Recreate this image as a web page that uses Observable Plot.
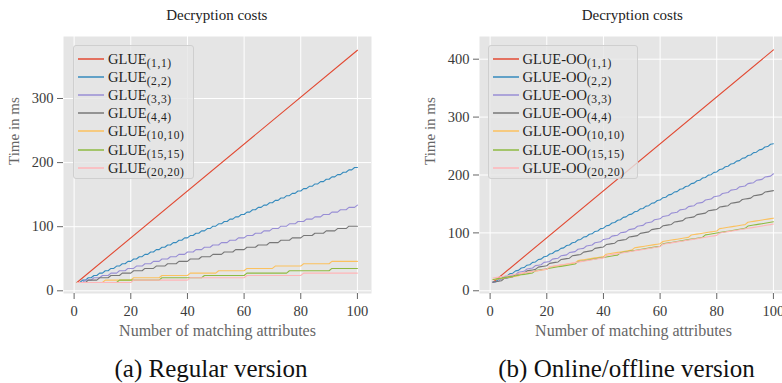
<!DOCTYPE html>
<html>
<head>
<meta charset="utf-8">
<script src="https://cdn.jsdelivr.net/npm/d3@7"></script>
<script src="https://cdn.jsdelivr.net/npm/@observablehq/plot@0.6"></script>
<style>
html, body { margin: 0; padding: 0; background: #fff; width: 782px; height: 383px; overflow: hidden; }
body { position: relative; font-family: "Liberation Serif", "DejaVu Serif", serif; }
.panel { position: absolute; top: 0; width: 391px; height: 345px; }
.title { position: absolute; top: 7px; transform: translateX(-50%); font-size: 15px; line-height: 16px; color: #222; white-space: nowrap; }
.caption { position: absolute; top: 357px; transform: translateX(-50%); font-size: 25px; line-height: 24px; color: #111; white-space: nowrap; }
.legend { position: absolute; box-sizing: border-box; border: 1px solid #cfcfcf; border-radius: 3px; background: rgba(229,229,229,0.8); padding-top: 4px; }
.legend .row { display: flex; align-items: center; height: 18.1px; padding-left: 4px; }
.legend svg { display: block; margin-right: 4px; }
.legend span { font-size: 14.5px; line-height: 14px; color: #222; white-space: nowrap; }
.legend sub { font-size: 11.5px; letter-spacing: 0.6px; vertical-align: -3px; line-height: 0; }
</style>
</head>
<body>
<script>
// ---------- data ----------
const colors = ["#E24A33", "#348ABD", "#988ED5", "#777777", "#FBC15E", "#8EBA42", "#FFB5B8"];
const params = ["(1,1)", "(2,2)", "(3,3)", "(4,4)", "(10,10)", "(15,15)", "(20,20)"];
const regLabel = "GLUE";
const ooLabel = "GLUE-OO";
const xTicks = [0, 20, 40, 60, 80, 100];
const regYTicks = [0, 100, 200, 300];
const ooYTicks = [0, 100, 200, 300, 400];
const attributes = d3.range(1, 101);   // number of matching attributes 1..100
const endpoints = [1, 100];

// Regular version (time in ms)
const reg_1_1 = [13.0, 375.3];
const reg_2_2 = [13.0,13.0,16.6,16.6,20.3,20.3,23.9,23.9,27.6,27.6,31.3,31.3,34.9,34.9,38.6,38.6,42.2,42.2,45.9,45.9,
49.6,49.6,53.2,53.2,56.9,56.9,60.5,60.5,64.2,64.2,67.9,67.9,71.5,71.5,75.2,75.2,78.8,78.8,82.5,82.5,
86.2,86.2,89.8,89.8,93.5,93.5,97.1,97.1,100.8,100.8,104.5,104.5,108.1,108.1,111.8,111.8,115.4,115.4,119.1,119.1,
122.8,122.8,126.4,126.4,130.1,130.1,133.7,133.7,137.4,137.4,141.1,141.1,144.7,144.7,148.4,148.4,152.0,152.0,155.7,155.7,
159.4,159.4,163.0,163.0,166.7,166.7,170.3,170.3,174.0,174.0,177.7,177.7,181.3,181.3,185.0,185.0,188.6,188.6,192.3,192.3];
const reg_3_3 = [13.0,13.0,13.0,16.6,16.6,16.6,20.3,20.3,20.3,23.9,23.9,23.9,27.6,27.6,27.6,
31.3,31.3,31.3,34.9,34.9,34.9,38.6,38.6,38.6,42.2,42.2,42.2,45.9,45.9,45.9,
49.6,49.6,49.6,53.2,53.2,53.2,56.9,56.9,56.9,60.5,60.5,60.5,64.2,64.2,64.2,
67.9,67.9,67.9,71.5,71.5,71.5,75.2,75.2,75.2,78.8,78.8,78.8,82.5,82.5,82.5,
86.2,86.2,86.2,89.8,89.8,89.8,93.5,93.5,93.5,97.1,97.1,97.1,100.8,100.8,100.8,
104.5,104.5,104.5,108.1,108.1,108.1,111.8,111.8,111.8,115.4,115.4,115.4,119.1,119.1,119.1,
122.8,122.8,122.8,126.4,126.4,126.4,130.1,130.1,130.1,133.7];
const reg_4_4 = [13.0,13.0,13.0,13.0,16.6,16.6,16.6,16.6,20.3,20.3,20.3,20.3,23.9,23.9,23.9,23.9,27.6,27.6,27.6,27.6,
31.3,31.3,31.3,31.3,34.9,34.9,34.9,34.9,38.6,38.6,38.6,38.6,42.2,42.2,42.2,42.2,45.9,45.9,45.9,45.9,
49.6,49.6,49.6,49.6,53.2,53.2,53.2,53.2,56.9,56.9,56.9,56.9,60.5,60.5,60.5,60.5,64.2,64.2,64.2,64.2,
67.9,67.9,67.9,67.9,71.5,71.5,71.5,71.5,75.2,75.2,75.2,75.2,78.8,78.8,78.8,78.8,82.5,82.5,82.5,82.5,
86.2,86.2,86.2,86.2,89.8,89.8,89.8,89.8,93.5,93.5,93.5,93.5,97.1,97.1,97.1,97.1,100.8,100.8,100.8,100.8];
const reg_10_10 = [13.0,13.0,13.0,13.0,13.0,13.0,13.0,13.0,13.0,13.0,
16.6,16.6,16.6,16.6,16.6,16.6,16.6,16.6,16.6,16.6,
20.3,20.3,20.3,20.3,20.3,20.3,20.3,20.3,20.3,20.3,
23.9,23.9,23.9,23.9,23.9,23.9,23.9,23.9,23.9,23.9,
27.6,27.6,27.6,27.6,27.6,27.6,27.6,27.6,27.6,27.6,
31.3,31.3,31.3,31.3,31.3,31.3,31.3,31.3,31.3,31.3,
34.9,34.9,34.9,34.9,34.9,34.9,34.9,34.9,34.9,34.9,
38.6,38.6,38.6,38.6,38.6,38.6,38.6,38.6,38.6,38.6,
42.2,42.2,42.2,42.2,42.2,42.2,42.2,42.2,42.2,42.2,
45.9,45.9,45.9,45.9,45.9,45.9,45.9,45.9,45.9,45.9];
const reg_15_15 = [13.0,13.0,13.0,13.0,13.0,13.0,13.0,13.0,13.0,13.0,13.0,13.0,13.0,13.0,13.0,
16.6,16.6,16.6,16.6,16.6,16.6,16.6,16.6,16.6,16.6,16.6,16.6,16.6,16.6,16.6,
20.3,20.3,20.3,20.3,20.3,20.3,20.3,20.3,20.3,20.3,20.3,20.3,20.3,20.3,20.3,
23.9,23.9,23.9,23.9,23.9,23.9,23.9,23.9,23.9,23.9,23.9,23.9,23.9,23.9,23.9,
27.6,27.6,27.6,27.6,27.6,27.6,27.6,27.6,27.6,27.6,27.6,27.6,27.6,27.6,27.6,
31.3,31.3,31.3,31.3,31.3,31.3,31.3,31.3,31.3,31.3,31.3,31.3,31.3,31.3,31.3,
34.9,34.9,34.9,34.9,34.9,34.9,34.9,34.9,34.9,34.9];
const reg_20_20 = [13.0,13.0,13.0,13.0,13.0,13.0,13.0,13.0,13.0,13.0,13.0,13.0,13.0,13.0,13.0,13.0,13.0,13.0,13.0,13.0,
16.6,16.6,16.6,16.6,16.6,16.6,16.6,16.6,16.6,16.6,16.6,16.6,16.6,16.6,16.6,16.6,16.6,16.6,16.6,16.6,
20.3,20.3,20.3,20.3,20.3,20.3,20.3,20.3,20.3,20.3,20.3,20.3,20.3,20.3,20.3,20.3,20.3,20.3,20.3,20.3,
23.9,23.9,23.9,23.9,23.9,23.9,23.9,23.9,23.9,23.9,23.9,23.9,23.9,23.9,23.9,23.9,23.9,23.9,23.9,23.9,
27.6,27.6,27.6,27.6,27.6,27.6,27.6,27.6,27.6,27.6,27.6,27.6,27.6,27.6,27.6,27.6,27.6,27.6,27.6,27.6];

// Online/offline version (time in ms)
const oo_1_1 = [14.5, 416.0];
const oo_2_2 = [15.0,15.8,19.9,20.7,24.7,25.5,29.6,30.4,34.4,35.2,39.3,40.1,44.2,45.0,49.0,49.8,53.9,54.7,58.7,59.5,
63.6,64.4,68.5,69.3,73.3,74.1,78.2,79.0,83.0,83.8,87.9,88.7,92.8,93.6,97.6,98.4,102.5,103.3,107.3,108.1,
112.2,113.0,117.1,117.9,121.9,122.7,126.8,127.6,131.6,132.4,136.5,137.3,141.4,142.2,146.2,147.0,151.1,151.9,155.9,156.7,
160.8,161.6,165.7,166.5,170.5,171.3,175.4,176.2,180.2,181.0,185.1,185.9,190.0,190.8,194.8,195.6,199.7,200.5,204.5,205.3,
209.4,210.2,214.3,215.1,219.1,219.9,224.0,224.8,228.8,229.6,233.7,234.5,238.6,239.4,243.4,244.2,248.3,249.1,253.1,253.9];
const oo_3_3 = [15.0,15.8,16.6,20.7,21.5,22.3,26.3,27.1,27.9,32.0,32.8,33.6,37.7,38.5,39.3,
43.4,44.2,45.0,49.0,49.8,50.6,54.7,55.5,56.3,60.4,61.2,62.0,66.0,66.8,67.6,
71.7,72.5,73.3,77.4,78.2,79.0,83.0,83.8,84.6,88.7,89.5,90.3,94.4,95.2,96.0,
100.1,100.9,101.7,105.7,106.5,107.3,111.4,112.2,113.0,117.1,117.9,118.7,122.7,123.5,124.3,
128.4,129.2,130.0,134.1,134.9,135.7,139.7,140.5,141.3,145.4,146.2,147.0,151.1,151.9,152.7,
156.8,157.6,158.4,162.4,163.2,164.0,168.1,168.9,169.7,173.8,174.6,175.4,179.4,180.2,181.0,
185.1,185.9,186.7,190.8,191.6,192.4,196.4,197.2,198.0,202.1];
const oo_4_4 = [15.0,15.8,16.6,17.4,21.5,22.3,23.1,23.9,28.0,28.8,29.6,30.4,34.4,35.2,36.0,36.9,40.9,41.7,42.5,43.3,
47.4,48.2,49.0,49.8,53.9,54.7,55.5,56.3,60.4,61.2,62.0,62.8,66.8,67.6,68.5,69.3,73.3,74.1,74.9,75.7,
79.8,80.6,81.4,82.2,86.3,87.1,87.9,88.7,92.8,93.6,94.4,95.2,99.2,100.0,100.9,101.7,105.7,106.5,107.3,108.1,
112.2,113.0,113.8,114.6,118.7,119.5,120.3,121.1,125.2,126.0,126.8,127.6,131.6,132.4,133.3,134.1,138.1,138.9,139.7,140.5,
144.6,145.4,146.2,147.0,151.1,151.9,152.7,153.5,157.6,158.4,159.2,160.0,164.0,164.8,165.7,166.5,170.5,171.3,172.1,173.0];
const oo_10_10 = [19.0,19.8,20.6,21.3,22.1,22.9,23.7,24.5,25.2,26.0,
30.0,30.8,31.6,32.4,33.2,33.9,34.7,35.5,36.3,37.1,
41.1,41.9,42.6,43.4,44.2,45.0,45.8,46.5,47.3,48.1,
52.1,52.9,53.7,54.5,55.2,56.0,56.8,57.6,58.4,59.1,
63.2,63.9,64.7,65.5,66.3,67.1,67.8,68.6,69.4,70.2,
74.2,75.0,75.8,76.5,77.3,78.1,78.9,79.7,80.4,81.2,
85.2,86.0,86.8,87.6,88.4,89.1,89.9,90.7,91.5,92.3,
96.3,97.1,97.8,98.6,99.4,100.2,101.0,101.7,102.5,103.3,
107.3,108.1,108.9,109.7,110.4,111.2,112.0,112.8,113.6,114.3,
118.4,119.1,119.9,120.7,121.5,122.3,123.0,123.8,124.6,125.4];
const oo_15_15 = [19.5,20.3,21.1,21.9,22.7,23.6,24.4,25.2,26.0,26.8,27.6,28.4,29.2,30.0,30.8,
34.9,35.7,36.5,37.3,38.1,38.9,39.8,40.6,41.4,42.2,43.0,43.8,44.6,45.4,46.2,
50.3,51.1,51.9,52.7,53.5,54.3,55.1,56.0,56.8,57.6,58.4,59.2,60.0,60.8,61.6,
65.7,66.5,67.3,68.1,68.9,69.7,70.5,71.3,72.2,73.0,73.8,74.6,75.4,76.2,77.0,
81.1,81.9,82.7,83.5,84.3,85.1,85.9,86.7,87.5,88.4,89.2,90.0,90.8,91.6,92.4,
96.5,97.3,98.1,98.9,99.7,100.5,101.3,102.1,102.9,103.7,104.6,105.4,106.2,107.0,107.8,
111.8,112.7,113.5,114.3,115.1,115.9,116.7,117.5,118.3,119.1];
const oo_20_20 = [22.0,22.8,23.6,24.4,25.2,26.1,26.9,27.7,28.5,29.3,30.1,30.9,31.7,32.5,33.3,34.2,35.0,35.8,36.6,37.4,
41.4,42.3,43.1,43.9,44.7,45.5,46.3,47.1,47.9,48.7,49.5,50.4,51.2,52.0,52.8,53.6,54.4,55.2,56.0,56.8,
60.9,61.7,62.5,63.3,64.1,64.9,65.7,66.6,67.4,68.2,69.0,69.8,70.6,71.4,72.2,73.0,73.8,74.7,75.5,76.3,
80.3,81.1,81.9,82.8,83.6,84.4,85.2,86.0,86.8,87.6,88.4,89.2,90.0,90.9,91.7,92.5,93.3,94.1,94.9,95.7,
99.8,100.6,101.4,102.2,103.0,103.8,104.6,105.4,106.2,107.1,107.9,108.7,109.5,110.3,111.1,111.9,112.7,113.5,114.3,115.2];

// ---------- build tables ----------
function table(label, seriesList) {
  const rows = [];
  seriesList.forEach((vals, i) => {
    const xs = vals.length === 2 ? endpoints : attributes;
    vals.forEach((v, j) => rows.push({series: label + params[i], x: xs[j], y: v}));
  });
  return rows;
}
const regRows = table(regLabel, [reg_1_1, reg_2_2, reg_3_3, reg_4_4, reg_10_10, reg_15_15, reg_20_20]);
const ooRows = table(ooLabel, [oo_1_1, oo_2_2, oo_3_3, oo_4_4, oo_10_10, oo_15_15, oo_20_20]);

function makePanel(rows, label, yDomain, yTicks) {
  return Plot.plot({
    width: 391, height: 345,
    marginLeft: 63, marginRight: 20, marginTop: 36, marginBottom: 52,
    style: {fontFamily: '"Liberation Serif", serif', fontSize: "14.5px", color: "#3a3a3a", background: "transparent", overflow: "visible"},
    x: {domain: [-3.75, 104.97]},
    y: {domain: yDomain},
    color: {domain: params.map(p => label + p), range: colors},
    marks: [
      Plot.frame({fill: "#e5e5e5", stroke: null}),
      Plot.gridX(xTicks, {stroke: "#ffffff", strokeOpacity: 1, strokeWidth: 1}),
      Plot.gridY(yTicks, {stroke: "#ffffff", strokeOpacity: 1, strokeWidth: 1}),
      Plot.axisX(xTicks, {tickSize: 6, tickPadding: 6, stroke: "#666", label: null}),
      Plot.axisY(yTicks, {tickSize: 6, tickPadding: 4, stroke: "#666", label: null}),
      Plot.line(rows, {x: "x", y: "y", z: "series", stroke: "series", strokeWidth: 1.1}),
      Plot.text(["Time in ms"], {frameAnchor: "left", rotate: -90, dx: -49, fill: "#666", fontSize: 15}),
      Plot.text(["Number of matching attributes"], {frameAnchor: "bottom", dy: 42, fill: "#666", fontSize: 16})
    ]
  });
}

function addPanel(left, rows, label, yDomain, yTicks, caption, legendLeft, legendWidth) {
  const div = document.createElement("div");
  div.className = "panel";
  div.style.left = left + "px";
  div.appendChild(makePanel(rows, label, yDomain, yTicks));
  document.body.appendChild(div);

  const title = document.createElement("div");
  title.className = "title";
  title.style.left = (left + 216.8) + "px";
  title.textContent = "Decryption costs";
  document.body.appendChild(title);

  const lg = document.createElement("div");
  lg.className = "legend";
  lg.style.left = (left + legendLeft) + "px";
  lg.style.top = "45px";
  lg.style.width = legendWidth + "px";
  lg.style.height = "134px";
  params.forEach((p, i) => {
    const row = document.createElement("div");
    row.className = "row";
    row.innerHTML = `<svg width="26" height="4"><line x1="0" y1="2" x2="26" y2="2" stroke="${colors[i]}" stroke-width="1.5"/></svg><span>${label}<sub>${p}</sub></span>`;
    lg.appendChild(row);
  });
  document.body.appendChild(lg);

  const cap = document.createElement("div");
  cap.className = "caption";
  cap.style.left = (left + 211) + "px";
  cap.textContent = caption;
  document.body.appendChild(cap);
}

addPanel(0, regRows, regLabel, [-4.2, 396.7], regYTicks, "(a) Regular version", 73, 121);
addPanel(415.5, ooRows, ooLabel, [-4.7, 439.2], ooYTicks, "(b) Online/offline version", 72, 150);
</script>
</body>
</html>
